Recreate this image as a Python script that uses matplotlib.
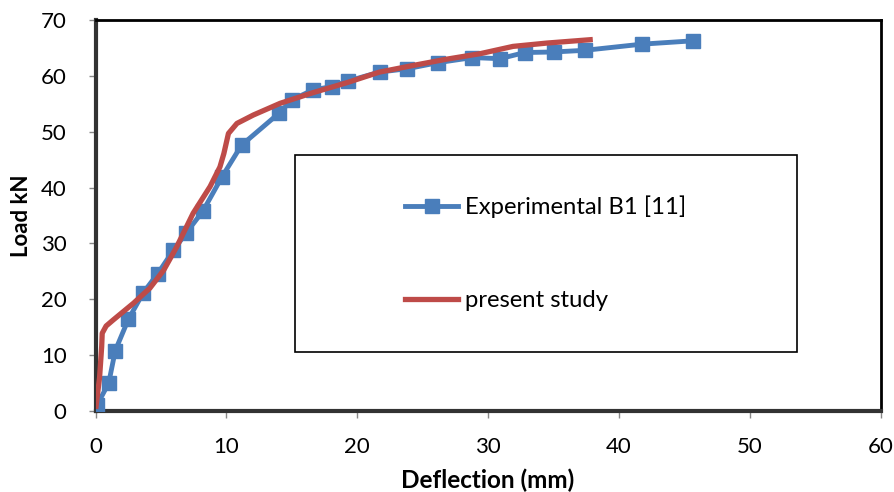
import matplotlib.pyplot as plt
from matplotlib.patches import Rectangle

plt.rcParams['font.family'] = ['Lato', 'DejaVu Sans']

# Experimental B1 [11]
exp_x = [0, 0.05, 0.1, 1.0, 1.5, 2.5, 3.65, 4.75, 5.95, 6.9, 8.2, 9.65, 11.15, 14.0,
         15.0, 16.6, 18.05, 19.3, 21.7, 23.8, 26.2, 28.8, 30.9, 32.8, 35.0, 37.4, 41.75, 45.65]
exp_y = [0, 0.5, 1.0, 5.0, 10.8, 16.4, 21.2, 24.6, 28.8, 31.8, 35.8, 41.9, 47.6, 53.3,
         55.7, 57.5, 58.1, 59.1, 60.7, 61.3, 62.4, 63.3, 63.1, 64.2, 64.3, 64.6, 65.7, 66.3]

# present study
fem_x = [0.03, 0.3, 0.46, 0.5, 0.8, 1.35, 2.9, 4.15, 5.2, 6.2, 7.45, 8.75, 9.5, 9.8,
         10.15, 10.8, 12.05, 14.1, 16.6, 19.2, 21.7, 24.3, 26.8, 29.4, 31.9, 34.5, 37.8]
fem_y = [0.8, 6.0, 11.5, 13.9, 15.2, 16.3, 19.3, 22.0, 25.2, 29.4, 35.4, 40.2, 43.7, 46.1,
         49.7, 51.5, 53.0, 55.1, 57.0, 58.8, 60.7, 61.9, 63.0, 64.0, 65.3, 65.9, 66.5]

fig = plt.figure(figsize=(8.94, 4.92), dpi=100)
ax = fig.add_axes([0.107, 0.165, 0.878, 0.794])

ax.plot(exp_x, exp_y, color='#4a7ebb', lw=3.5, marker='s', markersize=10,
        markeredgecolor='#4a7ebb', label='Experimental B1 [11]', zorder=3)
ax.plot(fem_x, fem_y, color='#be4b48', lw=3.8, label='present study', zorder=4)

ax.set_xlim(0, 60)
ax.set_ylim(0, 70)
ax.set_xticks(range(0, 61, 10))
ax.set_yticks(range(0, 71, 10))
ax.tick_params(labelsize=16, length=5, width=1, color='#888888')
ax.tick_params(axis='x', pad=14)
ax.tick_params(axis='y', pad=16)

for side in ['left', 'bottom']:
    ax.spines[side].set_linewidth(3)
    ax.spines[side].set_color('#333333')
for side in ['top', 'right']:
    ax.spines[side].set_linewidth(2)
    ax.spines[side].set_color('black')

ax.set_xlabel('Deflection (mm)', fontsize=17.5, fontweight='bold', labelpad=8)
ax.set_ylabel('Load kN', fontsize=16, fontweight='bold', labelpad=6)

# legend box
ax.add_patch(Rectangle((0.254, 0.151), 0.64, 0.504, transform=ax.transAxes,
                       fill=False, edgecolor='black', lw=1.2, zorder=5))
ax.legend(loc='center left', bbox_to_anchor=(0.367, 0.403), frameon=False,
          fontsize=17.2, labelspacing=3.0, handlelength=2.2, handletextpad=0.3)

fig.savefig('out.png', dpi=100)
